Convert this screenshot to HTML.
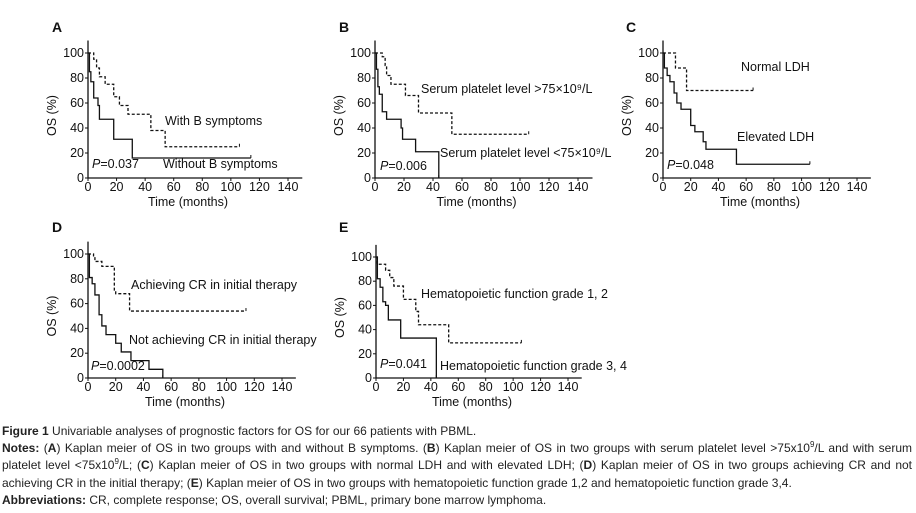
<!DOCTYPE html>
<html><head><meta charset="utf-8"><style>
body{margin:0;background:#fff;width:916px;height:513px;overflow:hidden;font-family:"Liberation Sans",sans-serif}
#cap{position:absolute;left:2px;top:423px;width:910px;font-size:12px;line-height:17.2px;color:#222;text-align:justify}
#cap p{margin:0}
#cap sup{font-size:8px;line-height:0;vertical-align:0;position:relative;top:-5px}
svg text{font-family:"Liberation Sans",sans-serif;fill:#111}
</style></head><body>
<svg id="fig" width="916" height="420" style="position:absolute;left:0;top:0"></svg>
<div id="cap">
<p><b>Figure 1</b> Univariable analyses of prognostic factors for OS for our 66 patients with PBML.</p>
<p><b>Notes:</b> (<b>A</b>) Kaplan meier of OS in two groups with and without B symptoms. (<b>B</b>) Kaplan meier of OS in two groups with serum platelet level &gt;75x10<sup>9</sup>/L and with serum platelet level &lt;75x10<sup>9</sup>/L; (<b>C</b>) Kaplan meier of OS in two groups with normal LDH and with elevated LDH; (<b>D</b>) Kaplan meier of OS in two groups achieving CR and not achieving CR in the initial therapy; (<b>E</b>) Kaplan meier of OS in two groups with hematopoietic function grade 1,2 and hematopoietic function grade 3,4.</p>
<p><b>Abbreviations:</b> CR, complete response; OS, overall survival; PBML, primary bone marrow lymphoma.</p>
</div>
<script>
const xTicks=[0,20,40,60,80,100,120,140];
const yTicks=[0,20,40,60,80,100];
// Panel A
const aDashT=[0,4,6,8,12,18,22,28,44,54,106];
const aDashS=[100,95,88,81,75,65,58,51,38,25,25];
const aSolT=[0,1,2,4,7,8,18,31,114];
const aSolS=[100,85,77,64,58,47,31,16,16];
// Panel B
const bDashT=[0,5,7,8,11,21,30,53,106];
const bDashS=[100,97,90,82,75,66,52,35,35];
const bSolT=[0,1,2,3,5,8,18,19,28,44];
const bSolS=[100,87,73,67,53,47,40,31,21,0];
// Panel C
const cDashT=[0,9,17,65];
const cDashS=[100,88,70,70];
const cSolT=[0,1,3,5,8,10,13,20,23,29,31,53,106];
const cSolS=[100,88,82,77,68,60,55,42,37,29,23,11,11];
// Panel D
const dDashT=[0,4,5,10,19,20,30,114];
const dDashS=[100,97,94,90,70,68,54,54];
const dSolT=[0,1,3,5,8,10,13,20,24,31,44,54];
const dSolS=[100,81,76,67,51,42,35,28,21,14,7,0];
// Panel E
const eDashT=[0,1,7,10,13,20,29,31,53,106];
const eDashS=[100,94,89,83,76,65,55,44,29,29];
const eSolT=[0,1,3,5,7,9,18,44];
const eSolS=[100,82,75,63,60,48,33,0];

const panels=[
 {id:'a',L:'A',x0:88,x1:288,y0:178,y100:53,lx:52,ly:32,dT:aDashT,dS:aDashS,sT:aSolT,sS:aSolS,
  labels:[['With B symptoms',165,125],['Without B symptoms',163,168],['P=0.037',92,168]]},
 {id:'b',L:'B',x0:375,x1:578,y0:178,y100:53,lx:339,ly:32,dT:bDashT,dS:bDashS,sT:bSolT,sS:bSolS,
  labels:[['Serum platelet level >75×10⁹/L',421,93],['Serum platelet level <75×10⁹/L',440,157],['P=0.006',380,170]]},
 {id:'c',L:'C',x0:663,x1:857,y0:178,y100:53,lx:626,ly:32,dT:cDashT,dS:cDashS,sT:cSolT,sS:cSolS,
  labels:[['Normal LDH',741,71],['Elevated LDH',737,141],['P=0.048',667,169]]},
 {id:'d',L:'D',x0:88,x1:282,y0:378,y100:254,lx:52,ly:232,dT:dDashT,dS:dDashS,sT:dSolT,sS:dSolS,
  labels:[['Achieving CR in initial therapy',131,289],['Not achieving CR in initial therapy',129,344],['P=0.0002',91,370]]},
 {id:'e',L:'E',x0:376,x1:568,y0:378,y100:257,lx:339,ly:232,dT:eDashT,dS:eDashS,sT:eSolT,sS:eSolS,
  labels:[['Hematopoietic function grade 1, 2',421,298],['Hematopoietic function grade 3, 4',440,370],['P=0.041',380,368]]}
];
const NS='http://www.w3.org/2000/svg';
const svg=document.getElementById('fig');
function mk(tag,attrs,parent){const e=document.createElementNS(NS,tag);for(const k in attrs)e.setAttribute(k,attrs[k]);parent.appendChild(e);return e;}
panels.forEach(p=>{
 const g=mk('g',{},svg);
 
 
 const X=t=>p.x0+(p.x1-p.x0)*t/140;
 const Y=s=>p.y0-(p.y0-p.y100)*s/100;
 const lab=mk('text',{x:p.lx,y:p.ly,'font-size':14,'font-weight':'bold'},g);lab.textContent=p.L;
 
 
 const ax=mk('path',{d:`M${p.x0} ${Y(110)}V${p.y0}H${X(150)}`,stroke:'#111','stroke-width':1.3,fill:'none'},g);
 
 
 xTicks.forEach(t=>{
  mk('line',{x1:X(t),x2:X(t),y1:p.y0,y2:p.y0+3,stroke:'#111'},g);
  const tx=mk('text',{x:X(t),y:p.y0+13,'font-size':12.5,'text-anchor':'middle'},g);tx.textContent=t;
  
  
 });
 yTicks.forEach(s=>{
  mk('line',{x1:p.x0-3,x2:p.x0,y1:Y(s),y2:Y(s),stroke:'#111'},g);
  const ty=mk('text',{x:p.x0-4,y:Y(s)+4,'font-size':12.5,'text-anchor':'end'},g);ty.textContent=s;
  
  
 });
 const xt=mk('text',{x:(p.x0+X(140))/2,y:p.y0+28,'font-size':12.5,'text-anchor':'middle'},g);xt.textContent='Time (months)';
 
 
 const yx=p.x0-32,yy=(p.y0+p.y100)/2;
 const yt=mk('text',{x:yx,y:yy,'font-size':12.5,'text-anchor':'middle',transform:`rotate(-90 ${yx} ${yy})`},g);yt.textContent='OS (%)';
 
 
 function step(T,S,dash,name){
  let d=`M${X(T[0])} ${Y(S[0])}`;
  for(let i=1;i<T.length;i++){d+=`H${X(T[i])}V${Y(S[i])}`;}
  const path=mk('path',{d,fill:'none',stroke:'#111','stroke-width':1.3},g);
  if(dash)path.setAttribute('stroke-dasharray','3,2');
  
  
  mk('line',{x1:X(T[T.length-1]),x2:X(T[T.length-1]),y1:Y(S[S.length-1])-3,y2:Y(S[S.length-1]),stroke:'#111'},g);
 }
 step(p.dT,p.dS,true,'curve-dashed-'+p.id);
 step(p.sT,p.sS,false,'curve-solid-'+p.id);
 p.labels.forEach(([t,x,y],i)=>{
  const e=mk('text',{x,y,'font-size':12.5},g);
  if(t.startsWith('P=')){const it=mk('tspan',{'font-style':'italic'},e);it.textContent='P';const r=mk('tspan',{},e);r.textContent=t.slice(1);}
  else e.textContent=t;
  
  
 });
});
</script>
</body></html>
